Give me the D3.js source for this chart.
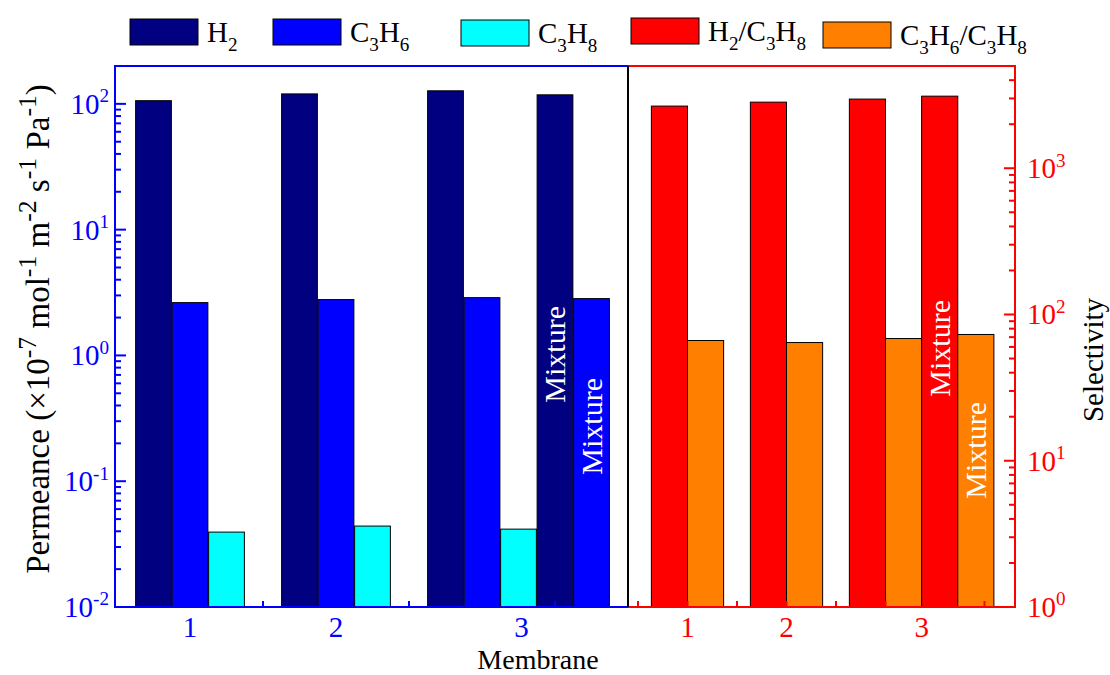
<!DOCTYPE html>
<html>
<head>
<meta charset="utf-8">
<script src="https://cdn.jsdelivr.net/npm/d3@7"></script>
<style>
  body { margin: 0; background: #fff; }
  text { font-family: "Liberation Serif", "Times New Roman", serif; }
</style>
</head>
<body>
<div id="wrapper"></div>
<script>
// Permeance (left panel) and selectivity (right panel) of membranes 1-3
// values

const membranes = ["1", "2", "3"]

// single gas permeance, x10^-7 mol m-2 s-1 Pa-1
const permH2 = [106, 120, 127]
const permC3H6 = [2.63, 2.78, 2.88]
const permC3H8 = [0.0394, 0.044, 0.0416]
// mixture, membrane 3 only
const mixPermH2 = 118
const mixPermC3H6 = 2.83

// ideal selectivity
const selH2C3H8 = [2660, 2830, 2970]
const selC3H6C3H8 = [66.4, 64.3, 68.5]
const mixSelH2C3H8 = 3110
const mixSelC3H6C3H8 = 73

const leftTicks = [0.01, 0.1, 1, 10, 100]
const rightTicks = [1, 10, 100, 1000]

const colors = {
  H2: "#000080",
  C3H6: "#0000ff",
  C3H8: "#00ffff",
  H2C3H8: "#ff0000",
  C3H6C3H8: "#ff8000"
}

const width = 1110
const height = 675
const dims = {
  top: 66,
  bottom: 607,
  leftX0: 115,
  leftX1: 628,
  rightX1: 1015
}

const fontSize = 29

const svg = d3.select("#wrapper")
  .append("svg")
  .attr("width", width)
  .attr("height", height)

// scales
const xL = d3.scaleLinear().domain([0.5, 4]).range([117, dims.leftX1])
const xR = d3.scaleLinear().domain([0.5, 4.5]).range([638, 1034])
const yL = d3.scaleLog().domain([0.01, 200]).range([dims.bottom, dims.top])
const yR = d3.scaleLog().domain([1, 5000]).range([dims.bottom, dims.top])

// helper for text with sub / superscripts
// parts: [["text"], ["2", "sub"], ["-1", "sup"]]
function richText(sel, parts, size, ratio = 0.66) {
  const small = size * ratio
  let shift = 0
  parts.forEach(([t, kind]) => {
    let target = 0
    if (kind === "sub") target = size * 0.3
    if (kind === "sup") target = -size * 0.4
    sel.append("tspan")
      .attr("dy", target - shift)
      .style("font-size", (kind ? small : size) + "px")
      .style("white-space", "pre")
      .text(t)
    shift = target
  })
  return sel
}

// ---- bars, left panel ----
const lw = 0.245
const leftBars = []
membranes.forEach((m, i) => {
  const g = i + 1
  leftBars.push({ pos: g - 0.25, v: permH2[i], c: colors.H2 })
  leftBars.push({ pos: g, v: permC3H6[i], c: colors.C3H6 })
  leftBars.push({ pos: g + 0.25, v: permC3H8[i], c: colors.C3H8 })
})
leftBars.push({ pos: 3.5, v: mixPermH2, c: colors.H2 })
leftBars.push({ pos: 3.75, v: mixPermC3H6, c: colors.C3H6 })

svg.append("g")
  .selectAll("rect")
  .data(leftBars)
  .join("rect")
  .attr("x", d => xL(d.pos - lw / 2))
  .attr("width", d => xL(d.pos + lw / 2) - xL(d.pos - lw / 2))
  .attr("y", d => yL(d.v))
  .attr("height", d => dims.bottom - yL(d.v))
  .attr("fill", d => d.c)
  .attr("stroke", "#000")
  .attr("stroke-width", 1)

// ---- bars, right panel ----
const rw = 0.365
const rightBars = []
membranes.forEach((m, i) => {
  const g = i + 1
  rightBars.push({ pos: g - rw / 2, v: selH2C3H8[i], c: colors.H2C3H8 })
  rightBars.push({ pos: g + rw / 2, v: selC3H6C3H8[i], c: colors.C3H6C3H8 })
})
rightBars.push({ pos: 3 + rw * 1.5, v: mixSelH2C3H8, c: colors.H2C3H8 })
rightBars.push({ pos: 3 + rw * 2.5, v: mixSelC3H6C3H8, c: colors.C3H6C3H8 })

svg.append("g")
  .selectAll("rect")
  .data(rightBars)
  .join("rect")
  .attr("x", d => xR(d.pos - rw / 2))
  .attr("width", d => xR(d.pos + rw / 2) - xR(d.pos - rw / 2))
  .attr("y", d => yR(d.v))
  .attr("height", d => dims.bottom - yR(d.v))
  .attr("fill", d => d.c)
  .attr("stroke", "#000")
  .attr("stroke-width", 1)

// ---- "Mixture" labels ----
const mixLabels = [
  { x: xL(3.5), top: 306, size: 30 },
  { x: xL(3.75), top: 378, size: 30 },
  { x: xR(3 + rw * 1.5), top: 300, size: 30 },
  { x: xR(3 + rw * 2.5), top: 402, size: 30 }
]
svg.append("g")
  .selectAll("text")
  .data(mixLabels)
  .join("text")
  .attr("transform", d => `translate(${d.x + 10},${d.top}) rotate(-90)`)
  .attr("text-anchor", "end")
  .attr("fill", "#fff")
  .style("font-size", d => d.size + "px")
  .text("Mixture")

// ---- axes ----
function logAxis(scale, side, color) {
  const g = svg.append("g")
  const x = side === "left" ? dims.leftX0 : dims.rightX1
  const dir = side === "left" ? 1 : -1
  const [lo, hi] = scale.domain()
  const minor = []
  for (let e = Math.floor(Math.log10(lo)); e <= Math.log10(hi); e++) {
    for (let k = 1; k <= 9; k++) {
      const v = k * Math.pow(10, e)
      if (v >= lo && v <= hi) minor.push({ v, major: k === 1 })
    }
  }
  g.selectAll("line.tick")
    .data(minor)
    .join("line")
    .attr("class", "tick")
    .attr("x1", x)
    .attr("x2", d => x + dir * (d.major ? 11 : 6))
    .attr("y1", d => scale(d.v))
    .attr("y2", d => scale(d.v))
    .attr("stroke", color)
    .attr("stroke-width", 2)
  return g
}

// bottom ticks (every half step, pointing up)
svg.append("g")
  .selectAll("line")
  .data(d3.range(1, 4, 0.5))
  .join("line")
  .attr("x1", d => xL(d)).attr("x2", d => xL(d))
  .attr("y1", dims.bottom).attr("y2", dims.bottom - 6)
  .attr("stroke", colors.C3H6).attr("stroke-width", 2)

svg.append("g")
  .selectAll("line")
  .data(d3.range(0.5, 4.01, 0.5))
  .join("line")
  .attr("x1", d => xR(d)).attr("x2", d => xR(d))
  .attr("y1", dims.bottom).attr("y2", dims.bottom - 6)
  .attr("stroke", colors.H2C3H8).attr("stroke-width", 2)

logAxis(yL, "left", "#0000ff")
logAxis(yR, "right", "#ff0000")

// frames
const frame = svg.append("g").attr("fill", "none").attr("stroke-width", 2)
frame.append("path")
  .attr("d", `M${dims.leftX1},${dims.top}H${dims.leftX0}V${dims.bottom}H${dims.leftX1}`)
  .attr("stroke", "#0000ff")
frame.append("path")
  .attr("d", `M${dims.leftX1},${dims.top}H${dims.rightX1}V${dims.bottom}H${dims.leftX1}`)
  .attr("stroke", "#ff0000")
frame.append("line")
  .attr("x1", dims.leftX1).attr("x2", dims.leftX1)
  .attr("y1", dims.top).attr("y2", dims.bottom)
  .attr("stroke", "#000")

// tick labels, y
svg.append("g")
  .selectAll("text")
  .data(leftTicks)
  .join("text")
  .attr("x", dims.leftX0 - 6)
  .attr("y", d => yL(d) + 10)
  .attr("text-anchor", "end")
  .attr("fill", "#0000ff")
  .each(function(d) {
    richText(d3.select(this), [["10"], [String(Math.round(Math.log10(d))), "sup"]], fontSize)
  })

svg.append("g")
  .selectAll("text")
  .data(rightTicks)
  .join("text")
  .attr("x", dims.rightX1 + 12)
  .attr("y", d => yR(d) + 10)
  .attr("fill", "#ff0000")
  .each(function(d) {
    richText(d3.select(this), [["10"], [String(Math.round(Math.log10(d))), "sup"]], fontSize)
  })

// tick labels, x (at centre of each membrane's bars)
const leftCentres = membranes.map((m, i) => i === 2 ? 3.27 : i + 1)
const rightCentres = membranes.map((m, i) => i === 2 ? 3 + rw : i + 1)

svg.append("g")
  .selectAll("text")
  .data(membranes)
  .join("text")
  .attr("x", (d, i) => xL(leftCentres[i]))
  .attr("y", 637)
  .attr("text-anchor", "middle")
  .attr("fill", "#0000ff")
  .style("font-size", fontSize + "px")
  .text(d => d)

svg.append("g")
  .selectAll("text")
  .data(membranes)
  .join("text")
  .attr("x", (d, i) => xR(rightCentres[i]))
  .attr("y", 637)
  .attr("text-anchor", "middle")
  .attr("fill", "#ff0000")
  .style("font-size", fontSize + "px")
  .text(d => d)

// axis titles
svg.append("text")
  .attr("x", 538)
  .attr("y", 669)
  .attr("text-anchor", "middle")
  .style("font-size", "28px")
  .text("Membrane")

const yTitle = svg.append("text")
  .attr("transform", `translate(49,329) rotate(-90)`)
  .attr("text-anchor", "middle")
richText(yTitle, [
  ["Permeance (\u00d710"], ["-7", "sup"], [" mol"], ["-1", "sup"], [" m"], ["-2", "sup"],
  [" s"], ["-1", "sup"], [" Pa"], ["-1", "sup"], [")"]
], 33, 0.78)

svg.append("text")
  .attr("transform", `translate(1103,360) rotate(-90)`)
  .attr("text-anchor", "middle")
  .style("font-size", fontSize + "px")
  .text("Selectivity")

// ---- legend ----
const legendItems = [
  { x: 130, y: 19, c: colors.H2, label: [["H"], ["2", "sub"]] },
  { x: 273, y: 19, c: colors.C3H6, label: [["C"], ["3", "sub"], ["H"], ["6", "sub"]] },
  { x: 461, y: 20, c: colors.C3H8, label: [["C"], ["3", "sub"], ["H"], ["8", "sub"]] },
  { x: 631, y: 18, c: colors.H2C3H8, label: [["H"], ["2", "sub"], ["/C"], ["3", "sub"], ["H"], ["8", "sub"]] },
  { x: 823, y: 22, c: colors.C3H6C3H8, label: [["C"], ["3", "sub"], ["H"], ["6", "sub"], ["/C"], ["3", "sub"], ["H"], ["8", "sub"]] }
]
const legend = svg.append("g")
  .selectAll("g")
  .data(legendItems)
  .join("g")
  .attr("transform", d => `translate(${d.x},${d.y})`)

legend.append("rect")
  .attr("width", 68)
  .attr("height", 26)
  .attr("fill", d => d.c)
  .attr("stroke", "#000")
  .attr("stroke-width", 1)

legend.append("text")
  .attr("x", 77)
  .attr("y", 23)
  .each(function(d) { richText(d3.select(this), d.label, fontSize) })
</script>
</body>
</html>
